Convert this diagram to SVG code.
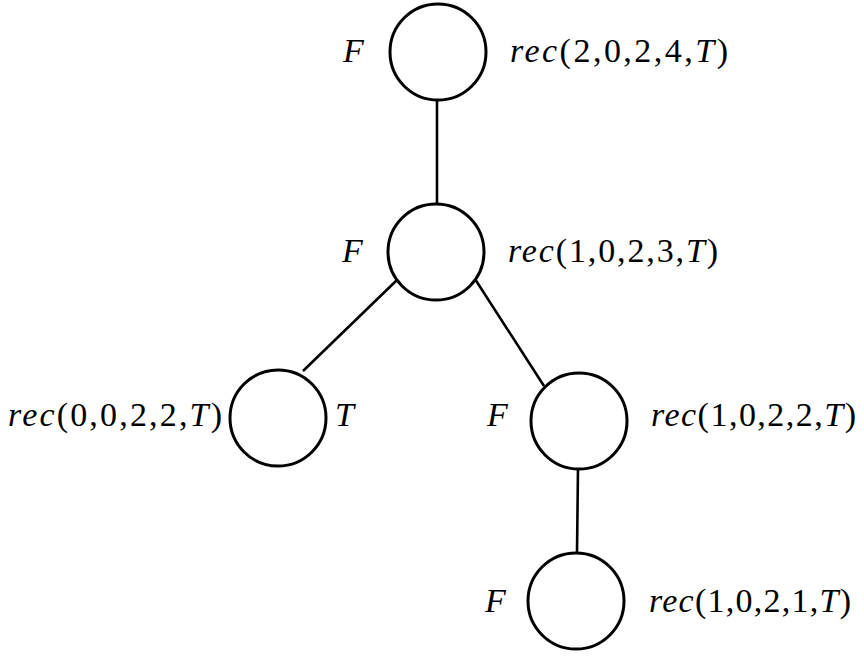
<svg xmlns="http://www.w3.org/2000/svg" width="864" height="656" viewBox="0 0 864 656">
<style>
.node{fill:none;stroke:#000;stroke-width:3}
.edge{stroke:#000;stroke-width:2.6;fill:none}
text{font-family:'Liberation Serif','Times New Roman',Tinos,'DejaVu Serif',serif;font-size:34px;fill:#000}
.i{font-style:italic}
</style>
<rect width="864" height="656" fill="#fff"/>
<g id="connectors">
<line class="edge" x1="437" y1="100" x2="437" y2="204"/>
<line class="edge" x1="397" y1="280" x2="303" y2="371"/>
<line class="edge" x1="475" y1="279" x2="544" y2="386"/>
<line class="edge" x1="578" y1="468" x2="577" y2="553"/>
</g>
<g id="n1">
<circle class="node" cx="438" cy="52" r="48"/>
<text x="343" y="62" class="i" font-family="Liberation Serif, serif">F</text>
<text x="510" y="62" textLength="218" lengthAdjust="spacing"><tspan class="i">rec</tspan>(2,0,2,4,<tspan class="i">T</tspan>)</text>
</g>
<g id="n2">
<circle class="node" cx="436" cy="252" r="48"/>
<text x="342" y="262" class="i">F</text>
<text x="508" y="262" textLength="210" lengthAdjust="spacing"><tspan class="i">rec</tspan>(1,0,2,3,<tspan class="i">T</tspan>)</text>
</g>
<g id="n3">
<circle class="node" cx="278" cy="418" r="48"/>
<text x="8" y="426" textLength="214" lengthAdjust="spacing"><tspan class="i">rec</tspan>(0,0,2,2,<tspan class="i">T</tspan>)</text>
<text x="335" y="426" class="i">T</text>
</g>
<g id="n4">
<circle class="node" cx="579" cy="421" r="48"/>
<text x="487" y="426" class="i">F</text>
<text x="651" y="426" textLength="205" lengthAdjust="spacing"><tspan class="i">rec</tspan>(1,0,2,2,<tspan class="i">T</tspan>)</text>
</g>
<g id="n5">
<circle class="node" cx="576" cy="601" r="48"/>
<text x="485" y="612" class="i">F</text>
<text x="649" y="612" textLength="202" lengthAdjust="spacing"><tspan class="i">rec</tspan>(1,0,2,1,<tspan class="i">T</tspan>)</text>
</g>
</svg>
